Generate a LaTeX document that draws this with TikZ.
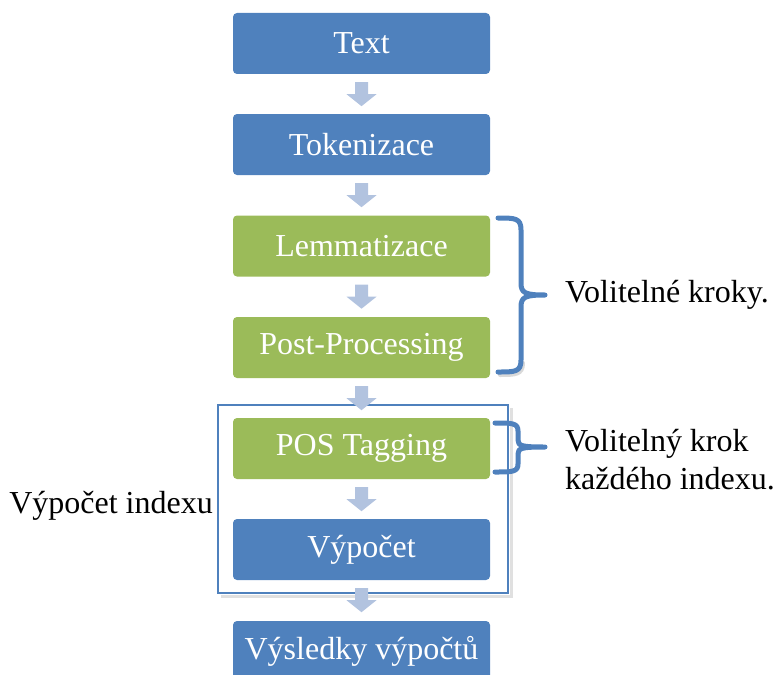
\documentclass[tikz,border=0pt]{standalone}
\usepackage{fontspec}
\setmainfont{Liberation Serif}
\definecolor{stepblue}{HTML}{4F81BD}
\definecolor{stepgreen}{HTML}{9BBB59}
\definecolor{flowarrow}{HTML}{B2C3DF}
\definecolor{bracecol}{HTML}{4F81BD}
\tikzset{
  stepbox/.style={rounded corners=4pt, minimum width=257pt, minimum height=61pt,
    inner sep=0pt, text=white, font=\fontsize{32}{36}\selectfont},
  bluestep/.style={stepbox, fill=stepblue},
  greenstep/.style={stepbox, fill=stepgreen},
  flowarr/.style={fill=flowarrow, draw=none},
  bracestyle/.style={draw=bracecol, line width=5pt, line cap=round, line join=round},
  bracelabel/.style={anchor=base west, inner sep=0pt, font=\fontsize{32}{38}\selectfont, align=left},
}
% block arrow hanging from a given top point, 24pt long
\newcommand{\flowdown}[1]{%
  \fill[flowarr] ($(#1)+(-6.5,0)$) -- ++(13,0) -- ++(0,12) -- ++(8.5,0)
    -- ++(-15,12) -- ++(-15,-12) -- ++(8.5,0) -- cycle;}
\usetikzlibrary{calc}
\begin{document}
\begin{tikzpicture}[x=1pt, y=-1pt]
\useasboundingbox (0,0) rectangle (775,674);
\begin{scope}
\clip (0,0) rectangle (775,674);

% grouping frame around the per-index steps (with a soft shadow)
\draw[black!12, line width=3pt] (221,596) -- (511,596) -- (511,408);
\draw[stepblue, line width=1.5pt] (218,405) rectangle (508,593);

% the pipeline steps
\node[bluestep]  (text)  at (361.5,43.5)  {Text};
\node[bluestep]  (tok)   at (361.5,144.5) {Tokenizace};
\node[greenstep] (lem)   at (361.5,246)   {Lemmatizace};
\node[greenstep] (post)  at (361.5,347.5) {Post-Processing};
\node[greenstep] (pos)   at (361.5,448.5) {POS Tagging};
\node[bluestep]  (calc)  at (361.5,549.5) {Výpočet};
\node[bluestep]  (res)   at (361.5,651.5) {Výsledky výpočtů};

% flow arrows between consecutive steps
\foreach \a in {text,tok,lem,post,pos,calc}{
  \coordinate (top) at ($(\a.south)+(0,8)$);
  \flowdown{top}
}

% brace over the optional steps
\draw[black!15, line width=4pt, line cap=round]
  (500,375) .. controls (515,375) and (523,375) .. (523,363);
\draw[bracestyle] (498,218) .. controls (515,218) and (521,218) .. (521,230)
  -- (521,283) .. controls (521,293) and (525,295) .. (545,295)
  .. controls (525,295) and (521,297) .. (521,307)
  -- (521,360) .. controls (521,372) and (515,372) .. (498,372);
\coordinate (b1) at (545,295);

% brace over POS tagging
\draw[bracestyle] (495,423) .. controls (512,423) and (518,423) .. (518,431)
  -- (518,440) .. controls (518,446) and (522,447) .. (545,447)
  .. controls (522,447) and (518,448) .. (518,454)
  -- (518,464) .. controls (518,472) and (512,472) .. (495,472);
\coordinate (b2) at (545,447);

% labels
\node[bracelabel] (lbl1) at (565,302) {Volitelné kroky.};
\node[bracelabel] (lbl2) at (565,489) {Volitelný krok\\každého indexu.};
\node[anchor=base east, inner sep=0pt, font=\fontsize{32}{38}\selectfont] (lbl3) at (213,513) {Výpočet indexu};
\end{scope}
\end{tikzpicture}
\end{document}
